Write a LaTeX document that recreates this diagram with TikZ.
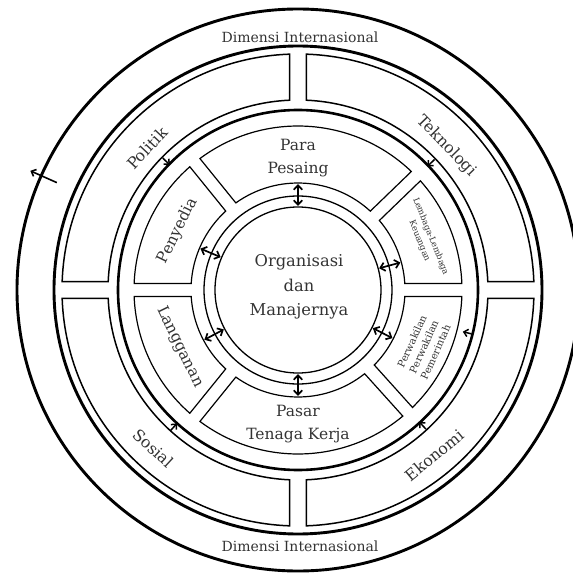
\documentclass[tikz,border=0pt]{standalone}
\usepackage{fontspec}
\setmainfont{DejaVu Serif}
\usetikzlibrary{arrows.meta}
\definecolor{txt}{HTML}{333333}
\tikzset{
  thickring/.style={line width=2.9pt},
  midring/.style={line width=2.6pt},
  obox/.style={line width=1.5pt},
  ibox/.style={line width=1.2pt},
  thinring/.style={line width=1.3pt},
  dblarrow/.style={line width=1.7pt, {Straight Barb[length=4.5pt,width=8.5pt]}-{Straight Barb[length=4.5pt,width=8.5pt]}},
  inarrow/.style={line width=1.5pt, -{Straight Barb[length=4pt,width=7.5pt]}},
  lbl/.style={text=txt, inner sep=0pt, align=center},
  bigfont/.style={font=\fontsize{16.3}{24.5}\selectfont},
  boxfont/.style={font=\fontsize{15.5}{23}\selectfont},
  outfont/.style={font=\fontsize{15.8}{18}\selectfont},
  dimfont/.style={font=\fontsize{14}{16}\selectfont},
}
\begin{document}
\begin{tikzpicture}
\useasboundingbox (-298pt,-283pt) rectangle (275pt,290pt);
\clip (-298pt,-283pt) rectangle (275pt,290pt);

% rings
\draw[thickring] (0pt,0pt) circle[radius=281pt];
\draw[thickring] (0pt,0pt) circle[radius=244pt];
\draw[midring] (0pt,0pt) circle[radius=180pt];
\draw[thinring] (0pt,0pt) circle[radius=94pt];
\draw[thinring] (0pt,0pt) circle[radius=83pt];

% outer boxes
\foreach \a/\b in {0/90, 90/180, 180/270, 270/360} {
  \pgfmathsetmacro{\sA}{\a+asin(8.5/236)}
  \pgfmathsetmacro{\eA}{\b-asin(8.5/236)}
  \pgfmathsetmacro{\sB}{\a+asin(8.5/190)}
  \pgfmathsetmacro{\eB}{\b-asin(8.5/190)}
  \draw[obox] (\sA:236pt) arc[start angle=\sA, end angle=\eA, radius=236pt]
     -- (\eB:190pt) arc[start angle=\eB, end angle=\sB, radius=190pt] -- cycle;
}

% inner boxes
\foreach \a/\b in {0/44, 44/129, 129/180, 180/231, 231/312, 312/360} {
  \pgfmathsetmacro{\sA}{\a+asin(6.5/164)}
  \pgfmathsetmacro{\eA}{\b-asin(6.5/164)}
  \pgfmathsetmacro{\sB}{\a+asin(6.5/107)}
  \pgfmathsetmacro{\eB}{\b-asin(6.5/107)}
  \draw[ibox] (\sA:164pt) arc[start angle=\sA, end angle=\eA, radius=164pt]
     -- (\eB:107pt) arc[start angle=\eB, end angle=\sB, radius=107pt] -- cycle;
}

% labels
\node[lbl, bigfont] (org) at (1pt,3pt) {Organisasi\\dan\\Manajernya};
\node[lbl, boxfont] (pes) at (90:131.5pt) {Para\\Pesaing};
\node[lbl, boxfont] (pas) at (270:134.5pt) {Pasar\\Tenaga Kerja};
\node[lbl, boxfont, rotate=63.8] (pen) at (153.8:134pt) {Penyedia};
\node[lbl, boxfont, rotate=295.8] (lan) at (205.8:131pt) {Langganan};
\node[lbl, font=\fontsize{8.5}{12}\selectfont, rotate=-68] (lem) at (22:137pt) {Lembaga-Lembaga\\Keuangan};
\node[lbl, font=\fontsize{10}{13}\selectfont, rotate=65.7] (per) at (-24.3:138pt) {Perwakilan\\Perwakilan\\Pemerintah};

\node[lbl, outfont, rotate=46.8] (pol) at (136.8:207pt) {Politik};
\node[lbl, outfont, rotate=-45.8] (tek) at (44.2:206.5pt) {Teknologi};
\node[lbl, outfont, rotate=317.5] (sos) at (227.5:214.5pt) {Sosial};
\node[lbl, outfont, rotate=39.5] (eko) at (-50.5:214pt) {Ekonomi};

\node[lbl, dimfont, anchor=base] (dimT) at (2pt,247pt) {Dimensi Internasional};
\node[lbl, dimfont, anchor=base] (dimB) at (2pt,-261pt) {Dimensi Internasional};

% double arrows between centre and inner boxes
\foreach \i/\a in {1/90, 2/270, 3/157, 4/208, 5/15, 6/-27} {
  \coordinate (ca\i) at (\a:84pt);
  \coordinate (cb\i) at (\a:106pt);
  \draw[dblarrow] (ca\i) -- (cb\i);
}

% inward arrows from outer ring
\foreach \i/\a/\r/\s in {1/135.7/189/179, 2/43.7/189/179, 3/227.8/190/180, 4/-47.4/189/179, 5/-14.2/179/170} {
  \coordinate (oa\i) at (\a:\r pt);
  \coordinate (ob\i) at (\a:\s pt);
  \draw[inarrow] (oa\i) -- (ob\i);
}

% outward arrow on outermost circle
\coordinate (xa) at (156:264pt);
\coordinate (xb) at (156:293pt);
\draw[inarrow, line width=1.6pt] (xa) -- (xb);
\end{tikzpicture}
\end{document}
